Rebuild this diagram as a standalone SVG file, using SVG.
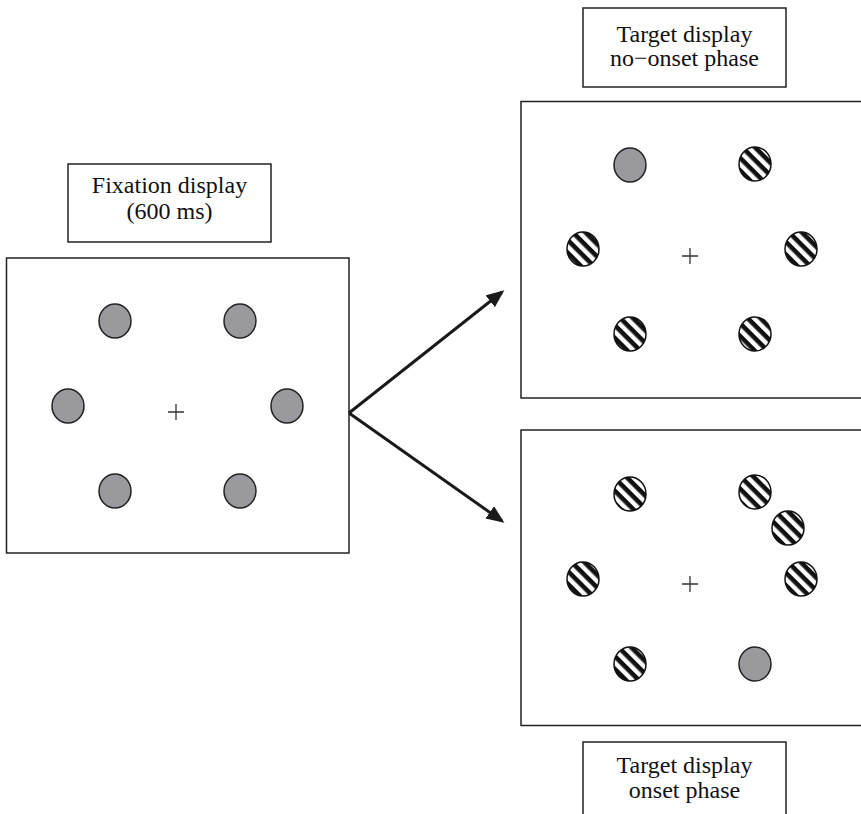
<svg xmlns="http://www.w3.org/2000/svg" width="861" height="814" viewBox="0 0 861 814">
<style>
.box{fill:#fff;stroke:#222;stroke-width:1.5}
.lbl{font-family:"Liberation Serif","Times New Roman",serif;font-size:24px;fill:#111;text-anchor:middle}
.g{fill:#9a9a9e;stroke:#222;stroke-width:1.5}
.s{fill:url(#stripes);stroke:#111;stroke-width:1.5}
.cross{stroke:#333;stroke-width:1.3;fill:none}
.arr{stroke:#1a1a1a;stroke-width:3;fill:none;marker-end:url(#ah)}
</style>
<defs>
<pattern id="stripes" patternUnits="userSpaceOnUse" width="9" height="9" patternTransform="rotate(45)">
<rect width="9" height="9" fill="#fff"/>
<rect width="9" height="4.6" fill="#111"/>
</pattern>
<marker id="ah" markerWidth="6" markerHeight="5" refX="5" refY="2.5" orient="auto" markerUnits="strokeWidth">
<path d="M0,0 L6,2.5 L0,5 Z" fill="#1a1a1a"/>
</marker>
</defs>

<g id="fixation-label">
<rect class="box" x="68" y="164" width="203" height="78"/>
<text class="lbl" x="169.5" y="193">Fixation display</text>
<text class="lbl" x="169.5" y="219">(600 ms)</text>
</g>

<g id="fixation-display">
<rect class="box" x="6.5" y="258" width="342.5" height="295"/>
<ellipse class="g" cx="115" cy="321" rx="16" ry="17"/>
<ellipse class="g" cx="240" cy="321" rx="16" ry="17"/>
<ellipse class="g" cx="68" cy="406" rx="16" ry="17"/>
<ellipse class="g" cx="287" cy="406" rx="16" ry="17"/>
<ellipse class="g" cx="115" cy="491" rx="16" ry="17"/>
<ellipse class="g" cx="240" cy="491" rx="16" ry="17"/>
<path class="cross" d="M168,412 H184 M176,404 V420"/>
</g>

<g id="target-noonset-label">
<rect class="box" x="583" y="8" width="203" height="79"/>
<text class="lbl" x="684.5" y="42">Target display</text>
<text class="lbl" x="684.5" y="66">no−onset phase</text>
</g>

<g id="target-noonset-display">
<rect class="box" x="521" y="101.5" width="345" height="296.5"/>
<ellipse class="g" cx="630" cy="165" rx="16" ry="17"/>
<ellipse class="s" cx="755" cy="164" rx="16" ry="17"/>
<ellipse class="s" cx="583" cy="249" rx="16" ry="17"/>
<ellipse class="s" cx="801" cy="249" rx="16" ry="17"/>
<ellipse class="s" cx="630" cy="334" rx="16" ry="17"/>
<ellipse class="s" cx="755" cy="334" rx="16" ry="17"/>
<path class="cross" d="M682,256 H698 M690,248 V264"/>
</g>

<g id="target-onset-display">
<rect class="box" x="521" y="430" width="345" height="295.5"/>
<ellipse class="s" cx="630" cy="494" rx="16" ry="17"/>
<ellipse class="s" cx="755" cy="492" rx="16" ry="17"/>
<ellipse class="s" cx="788" cy="528" rx="16" ry="17"/>
<ellipse class="s" cx="583" cy="579" rx="16" ry="17"/>
<ellipse class="s" cx="801" cy="579" rx="16" ry="17"/>
<ellipse class="s" cx="630" cy="664" rx="16" ry="17"/>
<ellipse class="g" cx="755" cy="664" rx="16" ry="17"/>
<path class="cross" d="M682,584 H698 M690,576 V592"/>
</g>

<g id="target-onset-label">
<rect class="box" x="583" y="742" width="203" height="80"/>
<text class="lbl" x="684.5" y="773">Target display</text>
<text class="lbl" x="684.5" y="798">onset phase</text>
</g>

<g id="connectors">
<path class="arr" d="M349,413 L502,292"/>
<path class="arr" d="M349,413 L502,521"/>
</g>
</svg>
